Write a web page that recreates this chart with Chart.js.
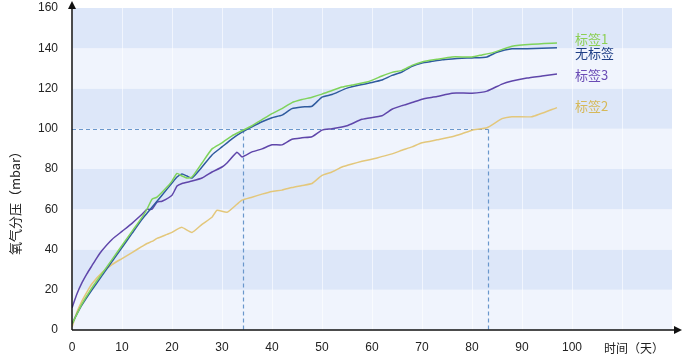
<!DOCTYPE html>
<html>
<head>
<meta charset="utf-8">
<script src="https://cdn.jsdelivr.net/npm/chart.js@4/dist/chart.umd.min.js"></script>
<style>
  html,body{margin:0;padding:0;background:#fff;}
  #wrap{width:700px;height:357px;}
</style>
</head>
<body>
<div id="wrap"><canvas id="c" width="700" height="357"></canvas></div>
<script>
// ---- data (day, mbar) ----
const seriesNames = ['标签1', '无标签', '标签3', '标签2'];
const label1 = [[0,3],[1,8],[2,13],[4,21],[6,28],[8,35],[10,42],[12,49],[14,56],[15,60],[16,65],[17,66],[19,71],[20,74],[21,77.8],[22,76.5],[23,75.5],[24,76],[26,83],[28,90],[30,93],[32,96.5],[34,99],[36,101.5],[38,104.5],[40,107.5],[42,110],[44,113],[46,114.5],[48,115.7],[50,117.2],[52,119],[54,120.7],[56,121.7],[59,123.2],[62,126.2],[64,128],[66,129],[68,131.5],[70,133.2],[73,134.5],[76,135.7],[80,135.7],[82,136.7],[84,137.7],[88,141],[92,142],[97,142.6]];
const noLabel = [[0,3],[1,8],[2,12.5],[4,20],[6,27],[8,34],[10,41],[12,48],[14,55],[15,58],[16,61],[17,64],[19,70],[20,73],[21,76],[22,77.5],[23,76.5],[24,75.5],[26,81],[28,87],[30,91],[32,95],[34,98.3],[36,101],[38,103.5],[40,105.5],[42,106.8],[44,110],[46,110.8],[48,111.2],[50,115.7],[52,117],[55,120.2],[58,122],[60,123],[62,124.2],[64,126.5],[66,128.2],[68,131],[70,132.7],[72,133.5],[74,134.3],[76,134.7],[78,135],[80,135.2],[83,135.7],[85,138],[88,139.7],[91,139.8],[94,140],[97,140.2]];
const label3 = [[0,11],[1,18],[2,23.5],[3,28],[4,32],[5,36],[6,39.5],[8,45],[10,49],[12,53],[14,57.5],[15,59.9],[16,60],[17,63.5],[18,64],[20,67],[21,71.5],[22,72.8],[24,74],[26,75.5],[28,78.5],[30,81],[31,83],[33,88.3],[34,86],[36,88.5],[38,90],[40,92],[42,92],[44,94.8],[46,95.5],[48,96],[50,99.3],[52,100],[55,101.5],[58,104.7],[62,106.5],[64,109.7],[66,111.5],[68,113],[70,114.7],[73,116],[76,117.7],[80,117.7],[83,118.7],[86,122.2],[88,123.7],[91,125.2],[94,126.2],[97,127.2]];
const label2 = [[0,1.5],[1,9],[2,14.5],[3,19],[4,23],[6,28.5],[8,32.5],[10,35.5],[12,38.5],[14,41.5],[15,43],[16,44],[17,45.5],[19,47.5],[20,48.5],[21,50],[22,51],[24,48.5],[26,52.5],[28,56],[29,59.5],[31,58.5],[33,62.5],[34,64.5],[36,66],[38,67.5],[40,68.8],[42,69.5],[44,70.8],[46,71.8],[48,72.8],[50,76.8],[52,78.5],[54,81],[56,82.5],[58,83.8],[61,85.5],[64,87.5],[66,89.3],[68,91],[70,93],[73,94.5],[76,96],[78,97.5],[80,99.3],[83,100.5],[86,105],[88,106],[92,106],[97,110.5]];
const thresholdValue = 100;
const crossDays = [34.2, 83.3];
const yTicks = [0,20,40,60,80,100,120,140,160];
const xTickMax = 100;
const xTitle = '时间（天）';
const yTitle = '氧气分压（mbar）';

const lineColors = ['#7fd35b', '#2f5b9e', '#5f46aa', '#e3c77b'];
const textColors = ['#8ccf55', '#1f3f86', '#6a4cb5', '#d6b95a'];
const labelDy = [-4, 5, 1, -2];
const allSeries = [label1, noLabel, label3, label2];

const deco = {
  id: 'deco',
  beforeDraw(chart) {
    const {ctx, chartArea: a, scales: {x, y}} = chart;
    ctx.save();
    for (let i = 0; i < yTicks.length - 1; i++) {
      const top = y.getPixelForValue(yTicks[i + 1]);
      const bot = y.getPixelForValue(yTicks[i]);
      ctx.fillStyle = (i % 2 === 1) ? '#dde7f9' : '#f0f4fd';
      ctx.fillRect(a.left, top, a.right - a.left, bot - top);
    }
    ctx.restore();
  },
  beforeDatasetsDraw(chart) {
    const {ctx, scales: {x, y}} = chart;
    ctx.save();
    ctx.strokeStyle = '#6a97cc';
    ctx.lineWidth = 1.2;
    ctx.setLineDash([4, 3]);
    const yp = Math.round(y.getPixelForValue(thresholdValue)) + 0.5;
    const x0 = x.getPixelForValue(0);
    const xEnd = x.getPixelForValue(Math.max(...crossDays));
    ctx.beginPath(); ctx.moveTo(x0, yp); ctx.lineTo(xEnd, yp); ctx.stroke();
    crossDays.forEach(d => {
      const xp = Math.round(x.getPixelForValue(d)) + 0.5;
      ctx.beginPath(); ctx.moveTo(xp, yp); ctx.lineTo(xp, y.getPixelForValue(0)); ctx.stroke();
    });
    ctx.restore();
  },
  afterDraw(chart) {
    const {ctx, chartArea: a, scales: {x, y}} = chart;
    ctx.save();
    ctx.strokeStyle = '#111'; ctx.fillStyle = '#111'; ctx.lineWidth = 1.5;
    const ox = x.getPixelForValue(0), oy = y.getPixelForValue(0);
    ctx.beginPath(); ctx.moveTo(ox, oy); ctx.lineTo(ox, 8); ctx.stroke();
    ctx.beginPath(); ctx.moveTo(ox, 1); ctx.lineTo(ox - 4, 9); ctx.lineTo(ox + 4, 9); ctx.closePath(); ctx.fill();
    ctx.beginPath(); ctx.moveTo(ox, oy); ctx.lineTo(675, oy); ctx.stroke();
    ctx.beginPath(); ctx.moveTo(682, oy); ctx.lineTo(674, oy - 4); ctx.lineTo(674, oy + 4); ctx.closePath(); ctx.fill();
    ctx.font = '13px "Noto Sans CJK SC"';
    ctx.textBaseline = 'middle'; ctx.textAlign = 'left';
    allSeries.forEach((s, i) => {
      const last = s[s.length - 1];
      ctx.fillStyle = textColors[i];
      ctx.fillText(seriesNames[i], x.getPixelForValue(last[0]) + 18, y.getPixelForValue(last[1]) + labelDy[i]);
    });
    ctx.fillStyle = '#222';
    ctx.font = '12px "Noto Sans CJK SC"';
    ctx.textAlign = 'center';
    ctx.fillText(xTitle, 634, 348);
    ctx.save();
    ctx.translate(15, 200); ctx.rotate(-Math.PI / 2);
    ctx.font = '13px "Noto Sans CJK SC"';
    ctx.fillText(yTitle, 0, 0);
    ctx.restore();
    ctx.restore();
  }
};

new Chart(document.getElementById('c'), {
  type: 'line',
  data: {
    datasets: allSeries.map((s, i) => ({
      label: seriesNames[i],
      data: s.map(p => ({x: p[0], y: p[1]})),
      borderColor: lineColors[i],
      borderWidth: 1.5,
      pointRadius: 0,
      tension: 0.15,
      fill: false
    }))
  },
  options: {
    responsive: false,
    animation: false,
    layout: {padding: {top: 8, right: 28, left: 0, bottom: 0}},
    plugins: {legend: {display: false}, tooltip: {enabled: false}},
    scales: {
      x: {
        type: 'linear', min: 0, max: 120,
        grid: {color: 'rgba(255,255,255,0.6)', lineWidth: 1, drawTicks: false},
        border: {display: false},
        ticks: {stepSize: 10, padding: 10, color: '#222', font: {size: 12, family: 'Liberation Sans'},
                maxRotation: 0, callback: v => (v <= xTickMax ? v : '')},
        afterFit: s => { s.height = 27; s.paddingLeft = 0; s.paddingRight = 0; }
      },
      y: {
        type: 'linear', min: 0, max: 160,
        grid: {display: false, drawTicks: false},
        border: {display: false},
        ticks: {stepSize: 20, padding: 14, color: '#222', font: {size: 12, family: 'Liberation Sans'}},
        afterFit: s => { s.width = 72; s.paddingTop = 0; s.paddingBottom = 0; }
      }
    }
  },
  plugins: [deco]
});
</script>
</body>
</html>
